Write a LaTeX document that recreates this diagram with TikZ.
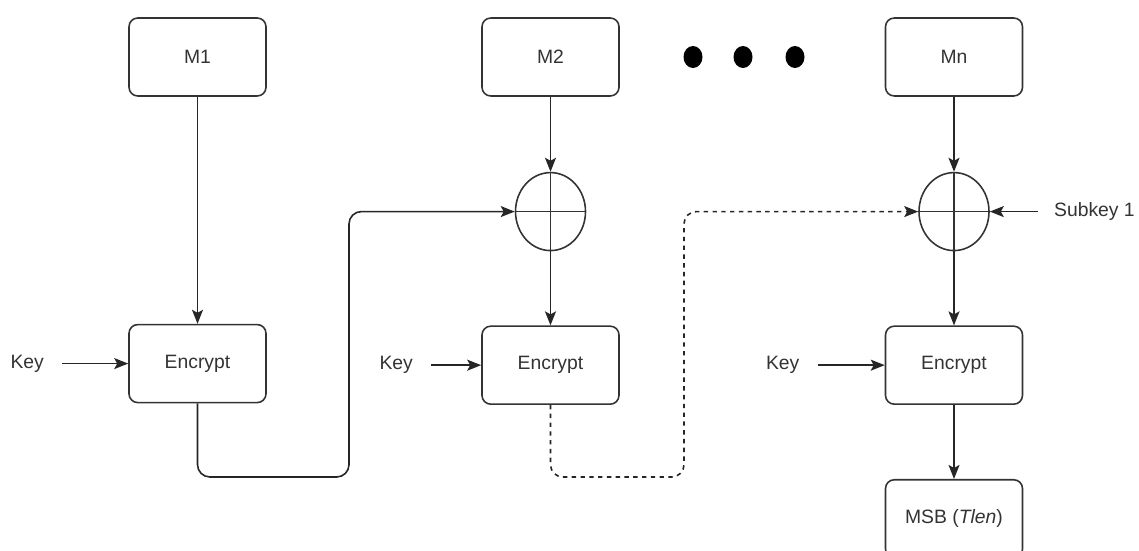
\documentclass[tikz,border=0pt]{standalone}
\usepackage{fontspec}
\setmainfont{Liberation Sans}
\usetikzlibrary{arrows.meta, positioning, shapes.geometric}

\begin{document}
\begin{tikzpicture}[
    font=\fontsize{11}{13}\selectfont,
    node distance=1.5cm,
    block/.style={rectangle, draw=black!80, line width=0.9pt, rounded corners=5pt, minimum width=2.74cm, minimum height=1.56cm, text=black!80, align=center},
    xor/.style={ellipse, draw=black!80, line width=0.9pt, minimum width=1.4cm, minimum height=1.56cm, inner sep=0pt,
        path picture={\draw[black!80, line width=0.9pt] (path picture bounding box.north) -- (path picture bounding box.south)
            (path picture bounding box.west) -- (path picture bounding box.east);}},
    keylabel/.style={text=black!80, inner xsep=0.36cm, inner ysep=2pt},
    dot/.style={ellipse, fill=black, minimum width=0.38cm, minimum height=0.44cm, inner sep=0pt},
    arrow/.style={-{Stealth[length=0.28cm, width=0.22cm, inset=0.06cm]}, line width=0.9pt, draw=black!85},
    link/.style={arrow, rounded corners=7pt}
]
\useasboundingbox (0,0) rectangle (22.78,-11);

% messages
\node[block] (m1) at (3.95,-1.14) {M1};
\node[block] (m2) at (11.01,-1.14) {M2};
\node[block] (mn) at (19.08,-1.14) {Mn};

% dots between M2 and Mn
\foreach \x [count=\i] in {13.86, 14.86, 15.90}
    \node[dot] (dot\i) at (\x,-1.14) {};

% first block
\node[block, below=4.54cm of m1] (enc1) {Encrypt};
\node[keylabel, left=1.32cm of enc1] (key1) {Key};

% second block
\node[xor, below=of m2] (xor2) {};
\node[block, below=1.48cm of xor2] (enc2) {Encrypt};
\node[keylabel, left=1.0cm of enc2] (key2) {Key};

% last block
\node[xor, below=of mn] (xor3) {};
\node[block, below=1.48cm of xor3] (enc3) {Encrypt};
\node[keylabel, left=1.34cm of enc3] (key3) {Key};
\node[keylabel, inner xsep=0.32cm, right=0.96cm of xor3] (subkey) {Subkey 1};
\node[block, below=1.48cm of enc3] (msb) {MSB (\textit{Tlen})};

% bends of the chaining links
\coordinate (bend1) at (6.98,-9.54);
\coordinate (bend2) at (13.68,-9.54);

% arrows
\draw[arrow] (m1) -- (enc1);
\draw[arrow] (key1) -- (enc1);
\draw[arrow] (m2) -- (xor2);
\draw[arrow] (xor2.south) -- (enc2);
\draw[arrow] (key2) -- (enc2);
\draw[arrow] (mn) -- (xor3);
\draw[arrow] (xor3.south) -- (enc3);
\draw[arrow] (key3) -- (enc3);
\draw[arrow] (subkey) -- (xor3);
\draw[arrow] (enc3) -- (msb);

% chaining
\draw[link] (enc1.south) |- (bend1) |- (xor2.west);
\draw[link, dash pattern=on 2.5pt off 2.5pt] (enc2.south) |- (bend2) |- (xor3.west);
\end{tikzpicture}
\end{document}
